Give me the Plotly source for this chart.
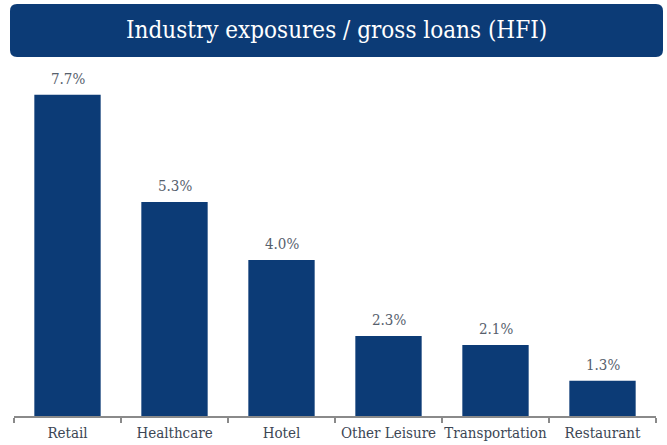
import plotly.graph_objects as go

# Industry exposures as a share of gross loans held for investment (%)
industries = ["Retail", "Healthcare", "Hotel", "Other Leisure", "Transportation", "Restaurant"]
exposure_pct = [7.7, 5.3, 4.0, 2.3, 2.1, 1.3]
value_labels = ["7.7%", "5.3%", "4.0%", "2.3%", "2.1%", "1.3%"]

W, H = 667, 445
M_L, M_R, M_T, M_B = 14, 11, 75, 29
NAVY = "#0c3b76"
FONT = "DejaVu Serif Condensed, DejaVu Serif, serif"

fig = go.Figure(
    go.Bar(
        x=industries,
        y=exposure_pct,
        marker=dict(color=NAVY, line=dict(width=0)),
        width=0.62,
        hoverinfo="x+y",
    )
)

# value labels above each bar
for cat, val, lab in zip(industries, exposure_pct, value_labels):
    fig.add_annotation(
        x=cat, y=val, text=lab, showarrow=False,
        yanchor="bottom", yshift=5,
        font=dict(family=FONT, size=15, color="#56606c"),
    )

# header banner: rounded rectangle in paper coordinates
pw, ph = W - M_L - M_R, H - M_T - M_B


def px(x):
    return (x - M_L) / pw


def py(y):
    return (H - M_B - y) / ph


x0, x1, y0, y1, r = 10, 663, 4, 57, 7
path = (
    f"M {px(x0 + r)},{py(y0)} L {px(x1 - r)},{py(y0)} "
    f"Q {px(x1)},{py(y0)} {px(x1)},{py(y0 + r)} "
    f"L {px(x1)},{py(y1 - r)} Q {px(x1)},{py(y1)} {px(x1 - r)},{py(y1)} "
    f"L {px(x0 + r)},{py(y1)} Q {px(x0)},{py(y1)} {px(x0)},{py(y1 - r)} "
    f"L {px(x0)},{py(y0 + r)} Q {px(x0)},{py(y0)} {px(x0 + r)},{py(y0)} Z"
)
fig.add_shape(type="path", path=path, xref="paper", yref="paper",
              fillcolor=NAVY, line=dict(width=0), layer="below")
fig.add_annotation(
    x=px((x0 + x1) / 2), y=py((y0 + y1) / 2), xref="paper", yref="paper",
    text="Industry exposures / gross loans (HFI)", showarrow=False,
    xanchor="center", yanchor="middle",
    font=dict(family=FONT, size=24, color="white"),
)

fig.update_layout(
    width=W, height=H,
    margin=dict(l=M_L, r=M_R, t=M_T, b=M_B, pad=0, autoexpand=False),
    paper_bgcolor="white", plot_bgcolor="white",
    showlegend=False,
    xaxis=dict(
        showline=True, linecolor="#8a8a8a", linewidth=1.5,
        ticks="outside", tickson="boundaries", ticklen=5, tickcolor="#8a8a8a",
        tickwidth=1.5, ticklabelstandoff=2, tickangle=0, automargin=False,
        tickfont=dict(family=FONT, size=15, color="#3c4654"),
        showgrid=False, zeroline=False,
    ),
    yaxis=dict(range=[0.51, 8.14], visible=False, showgrid=False, zeroline=False),
)

fig.write_html("out.html")
